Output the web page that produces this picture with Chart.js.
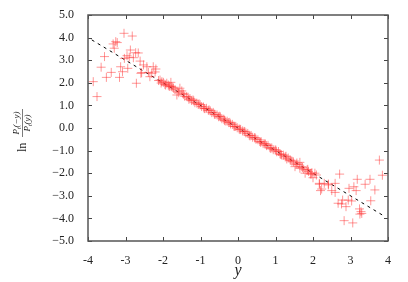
<!DOCTYPE html>
<html>
<head>
<meta charset="utf-8">
<script src="https://cdn.jsdelivr.net/npm/chart.js@4"></script>
<style>
body { margin: 0; background: #fff; }
</style>
</head>
<body>
<canvas id="ratioChart" width="408" height="282"></canvas>
<script>
// y values (x axis) and ln P_t(-y)/P_t(y) (y axis)
var yValues = [
	-3.86, -3.76, -3.65, -3.56, -3.51, -3.38, -3.33, -3.30, -3.26, -3.22,
	-3.16, -3.13, -3.08, -3.04, -3.03, -2.96, -2.94, -2.90, -2.87, -2.82,
	-2.79, -2.73, -2.71, -2.66, -2.61, -2.59, -2.57, -2.52, -2.43, -2.39,
	-2.35, -2.30, -2.26, -2.21, -2.19,
	-2.12, -2.08, -2.03, -1.99, -1.95, -1.90, -1.86, -1.82, -1.79, -1.77,
	-1.72, -1.68, -1.63, -1.60, -1.55, -1.50, -1.47, -1.42, -1.37, -1.33,
	-1.28, -1.24, -1.20, -1.15, -1.10, -1.06, -1.01, -0.97, -0.92, -0.88,
	-0.84, -0.79, -0.74, -0.70, -0.66, -0.61, -0.56, -0.52, -0.47, -0.43,
	-0.38, -0.34, -0.29, -0.25, -0.20, -0.15, -0.11, -0.06, -0.02, 0.03,
	0.07, 0.12, 0.16, 0.21, 0.26, 0.30, 0.35, 0.39, 0.44, 0.48,
	0.53, 0.58, 0.62, 0.67, 0.71, 0.76, 0.80, 0.85, 0.90, 0.94,
	0.99, 1.03, 1.08, 1.12, 1.16, 1.21, 1.26, 1.30, 1.34, 1.39,
	1.44, 1.48, 1.52, 1.55, 1.60, 1.65, 1.65, 1.70, 1.75, 1.79,
	1.84, 1.88, 1.93, 1.97, 2.00, 2.05, 2.09,
	-2.05, -1.93, -1.84, -1.74, -1.58, -1.45, -1.31, -1.18, -1.04, -0.90,
	-0.77, -0.63, -0.49, -0.36, -0.22, -0.09, 0.05, 0.18, 0.32, 0.46,
	0.60, 0.73, 0.87, 1.01, 1.14, 1.28, 1.41, 1.57, 1.72, 1.86, 1.95,
	2.17, 2.17, 2.20, 2.23, 2.30, 2.41, 2.41, 2.50, 2.59, 2.59,
	2.67, 2.71, 2.76, 2.79, 2.83, 2.88, 2.94, 2.96, 3.03, 3.06,
	3.09, 3.15, 3.18, 3.24, 3.25, 3.30, 3.28, 3.39, 3.52, 3.54,
	3.65, 3.77, 3.85
];
var lnRatio = [
	2.05, 1.39, 2.69, 3.16, 2.24, 2.46, 3.72, 3.53, 3.82, 3.78,
	2.24, 2.71, 2.49, 4.19, 3.08, 3.20, 2.64, 3.13, 3.45, 4.07,
	3.11, 3.33, 1.98, 3.32, 2.96, 2.42, 2.45, 2.79, 2.71, 2.46,
	2.27, 2.42, 2.71, 2.48, 2.61,
	2.10, 2.12, 2.05, 2.02, 1.93, 1.98, 1.90, 1.84, 2.02, 1.83,
	1.76, 1.70, 1.46, 1.63, 1.76, 1.64, 1.52, 1.40, 1.39, 1.36,
	1.30, 1.22, 1.24, 1.12, 1.10, 1.04, 1.03, 0.95, 0.93, 0.86,
	0.87, 0.78, 0.76, 0.68, 0.69, 0.60, 0.58, 0.50, 0.49, 0.41,
	0.39, 0.31, 0.30, 0.24, 0.18, 0.16, 0.08, 0.07, 0.01, -0.04,
	-0.06, -0.13, -0.15, -0.22, -0.24, -0.32, -0.33, -0.41, -0.43, -0.50,
	-0.52, -0.60, -0.61, -0.69, -0.70, -0.78, -0.77, -0.87, -0.88, -0.96,
	-0.97, -1.05, -1.04, -1.14, -1.19, -1.20, -1.28, -1.37, -1.33, -1.41,
	-1.47, -1.50, -1.71, -1.60, -1.62, -1.52, -1.78, -1.71, -1.82, -2.00,
	-1.86, -1.92, -2.03, -1.98, -2.20, -2.00, -2.08,
	1.99, 1.90, 1.86, 1.80, 1.56, 1.49, 1.27, 1.20, 1.07, 0.86,
	0.80, 0.61, 0.52, 0.34, 0.25, 0.07, -0.07, -0.16, -0.35, -0.44,
	-0.63, -0.71, -0.90, -0.98, -1.17, -1.25, -1.44, -1.55, -1.75, -1.83, -2.04,
	-2.45, -2.49, -2.77, -2.70, -2.45, -2.48, -2.52, -2.77, -2.45, -2.85,
	-3.33, -2.04, -3.36, -3.19, -4.10, -3.48, -3.19, -2.67, -3.23, -4.20,
	-2.60, -2.77, -2.27, -3.58, -3.81, -3.78, -3.70, -2.49, -2.27, -3.22,
	-2.74, -1.42, -2.09
];
// dashed reference line ln ratio = -y
var lineX = [-3.9, 3.85];
var lineY = [3.9, -3.85];
var xTicks = [-4, -3, -2, -1, 0, 1, 2, 3, 4];
var yTicks = [-5, -4, -3, -2, -1, 0, 1, 2, 3, 4, 5];

var serif = "'Liberation Serif', 'DejaVu Serif', serif";

var pts = yValues.map(function (v, i) { return { x: v, y: lnRatio[i] }; });
var linePts = lineX.map(function (v, i) { return { x: v, y: lineY[i] }; });

// draws P_t(arg) centred on cx
function drawPt(ctx, arg, cx, cy) {
	var big = 'italic 9px ' + serif, small = 'italic 6px ' + serif;
	ctx.font = big;
	var wP = ctx.measureText('P').width, wA = ctx.measureText(arg).width;
	ctx.font = small;
	var wt = ctx.measureText('t').width;
	var x = cx - (wP + wt + wA) / 2;
	ctx.textAlign = 'left';
	ctx.font = big;
	ctx.fillText('P', x, cy);
	ctx.font = small;
	ctx.fillText('t', x + wP, cy + 2);
	ctx.font = big;
	ctx.fillText(arg, x + wP + wt, cy);
}

var framePlugin = {
	id: 'frame',
	afterDraw: function (chart) {
		var ctx = chart.ctx;
		var a = chart.chartArea;
		var sx = chart.scales.x, sy = chart.scales.y;
		ctx.save();
		ctx.strokeStyle = '#444';
		ctx.lineWidth = 1;
		xTicks.forEach(function (t) {
			var px = Math.round(sx.getPixelForValue(t)) + 0.5;
			ctx.beginPath();
			ctx.moveTo(px, a.bottom); ctx.lineTo(px, a.bottom - 4);
			ctx.moveTo(px, a.top); ctx.lineTo(px, a.top + 4);
			ctx.stroke();
		});
		yTicks.forEach(function (t) {
			var py = Math.round(sy.getPixelForValue(t)) + 0.5;
			ctx.beginPath();
			ctx.moveTo(a.left, py); ctx.lineTo(a.left + 4, py);
			ctx.moveTo(a.right, py); ctx.lineTo(a.right - 4, py);
			ctx.stroke();
		});
		ctx.lineWidth = 1.5;
		ctx.strokeStyle = '#555';
		ctx.strokeRect(a.left, a.top, a.right - a.left, a.bottom - a.top);

		// y axis title: ln P_t(-y)/P_t(y)
		ctx.translate(22, (a.top + a.bottom) / 2);
		ctx.rotate(-Math.PI / 2);
		ctx.fillStyle = '#222';
		ctx.textBaseline = 'middle';
		ctx.font = '12px ' + serif;
		ctx.textAlign = 'left';
		ctx.fillText('ln', -24, 1);
		drawPt(ctx, '(\u2212y)', 5, -5);
		drawPt(ctx, '(y)', 5, 6);
		ctx.lineWidth = 0.6;
		ctx.strokeStyle = '#222';
		ctx.beginPath();
		ctx.moveTo(-9, 0.5); ctx.lineTo(19, 0.5);
		ctx.stroke();
		ctx.restore();
	}
};

window.onload = function () {
	var ctx = document.getElementById('ratioChart').getContext('2d');
	new Chart(ctx, {
		type: 'scatter',
		data: {
			datasets: [{
				label: 'ln ratio',
				data: pts,
				pointStyle: 'cross',
				pointRadius: 4.5,
				pointBorderWidth: 1,
				borderColor: 'rgba(255, 50, 50, 0.5)',
				backgroundColor: 'rgba(255, 50, 50, 0.5)'
			}, {
				label: '-y',
				type: 'line',
				data: linePts,
				borderColor: '#000',
				borderWidth: 1,
				borderDash: [3, 4],
				pointRadius: 0,
				fill: false
			}]
		},
		options: {
			responsive: false,
			animation: false,
			layout: { padding: { top: 15, right: 20, left: 0, bottom: 0 } },
			plugins: {
				legend: { display: false },
				tooltip: { enabled: false }
			},
			scales: {
				x: {
					type: 'linear',
					min: -4,
					max: 4,
					afterFit: function (s) { s.height = 41; },
					afterBuildTicks: function (s) { s.ticks = xTicks.map(function (v) { return { value: v }; }); },
					grid: { display: false },
					border: { display: false },
					ticks: {
						padding: 5,
						color: '#222',
						font: { family: serif, size: 12 },
						callback: function (v) { return String(v); }
					},
					title: {
						display: true,
						text: 'y',
						color: '#222',
						padding: { top: 0, bottom: 2 },
						font: { family: serif, size: 16, style: 'italic' }
					}
				},
				y: {
					type: 'linear',
					min: -5,
					max: 5,
					afterFit: function (s) { s.width = 88; },
					afterBuildTicks: function (s) { s.ticks = yTicks.map(function (v) { return { value: v }; }); },
					grid: { display: false },
					border: { display: false },
					ticks: {
						padding: 6,
						color: '#222',
						font: { family: serif, size: 12 },
						callback: function (v) { return v.toFixed(1).replace('-', '\u2212'); }
					}
				}
			}
		},
		plugins: [framePlugin]
	});
};
</script>
</body>
</html>
